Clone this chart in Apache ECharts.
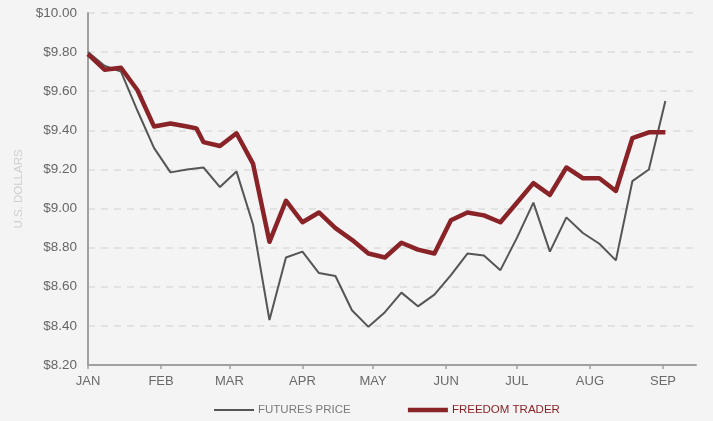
<!DOCTYPE html>
<html>
<head>
<meta charset="utf-8">
<script src="https://cdn.jsdelivr.net/npm/echarts@6/dist/echarts.min.js"></script>
<style>
  html, body { margin: 0; padding: 0; background: #f4f4f4; }
  #chart { width: 713px; height: 421px; }
</style>
</head>
<body>
<div id="chart"></div>
<script>
const MONTHS = ['JAN', 'FEB', 'MAR', 'APR', 'MAY', 'JUN', 'JUL', 'AUG', 'SEP'];
const YEAR = 2024;
const AXIS_START = '2024-01-01';
const AXIS_END = '2024-09-15';

const futuresDates = [
  '2024-01-01','2024-01-08','2024-01-15','2024-01-22','2024-01-29',
  '2024-02-05','2024-02-12','2024-02-19','2024-02-26',
  '2024-03-04','2024-03-11','2024-03-18','2024-03-25',
  '2024-04-01','2024-04-08','2024-04-15','2024-04-22','2024-04-29',
  '2024-05-06','2024-05-13','2024-05-20','2024-05-27',
  '2024-06-03','2024-06-10','2024-06-17','2024-06-24',
  '2024-07-01','2024-07-08','2024-07-15','2024-07-22','2024-07-29',
  '2024-08-05','2024-08-12','2024-08-19','2024-08-26',
  '2024-09-02'
];
const futuresPrice = [
  9.80, 9.73, 9.70, 9.50, 9.31,
  9.185, 9.20, 9.21, 9.11,
  9.19, 8.92, 8.43, 8.75,
  8.78, 8.67, 8.655, 8.48, 8.395,
  8.47, 8.57, 8.50, 8.56,
  8.66, 8.77, 8.76, 8.685,
  8.85, 9.03, 8.78, 8.955, 8.875,
  8.82, 8.735, 9.14, 9.20,
  9.55
];

const traderDates = [
  '2024-01-01','2024-01-08','2024-01-15','2024-01-22','2024-01-29',
  '2024-02-05','2024-02-12','2024-02-16','2024-02-19','2024-02-26',
  '2024-03-04','2024-03-11','2024-03-18','2024-03-25',
  '2024-04-01','2024-04-08','2024-04-15','2024-04-22','2024-04-29',
  '2024-05-06','2024-05-13','2024-05-20','2024-05-27',
  '2024-06-03','2024-06-10','2024-06-17','2024-06-24',
  '2024-07-01','2024-07-08','2024-07-15','2024-07-22','2024-07-29',
  '2024-08-05','2024-08-12','2024-08-19','2024-08-26',
  '2024-09-02'
];
const freedomTrader = [
  9.79, 9.71, 9.72, 9.605, 9.42,
  9.435, 9.42, 9.41, 9.34, 9.32,
  9.385, 9.23, 8.83, 9.04,
  8.93, 8.98, 8.90, 8.84, 8.77,
  8.75, 8.825, 8.79, 8.77,
  8.94, 8.98, 8.965, 8.93,
  9.03, 9.13, 9.07, 9.21, 9.155,
  9.155, 9.09, 9.36, 9.39,
  9.39
];

const Y_MIN = 8.2, Y_MAX = 10.0, Y_STEP = 0.2;

const ts = s => Date.parse(s + 'T00:00:00Z');
const monthTicks = MONTHS.map((m, i) => Date.UTC(YEAR, i, 1));
const zip = (d, v) => d.map((x, i) => [ts(x), v[i]]);

const FONT = '"Liberation Sans", Arial, sans-serif';

const chart = echarts.init(document.getElementById('chart'), null, { renderer: 'canvas' });
chart.setOption({
  backgroundColor: '#f4f4f4',
  animation: false,
  grid: { left: 88, right: 17, top: 13, bottom: 56, containLabel: false },
  xAxis: {
    type: 'value',
    min: ts(AXIS_START),
    max: ts(AXIS_END),
    axisLine: { show: true, lineStyle: { color: '#a0a0a0', width: 2 } },
    axisTick: { show: true, length: 4, lineStyle: { color: '#a0a0a0', width: 1.5 }, customValues: monthTicks },
    axisLabel: {
      customValues: monthTicks,
      color: '#6a6a6a', fontSize: 13, fontFamily: FONT, margin: 10,
      formatter: v => MONTHS[new Date(v).getUTCMonth()]
    },
    splitLine: { show: false }
  },
  yAxis: {
    type: 'value',
    min: Y_MIN, max: Y_MAX, interval: Y_STEP,
    name: 'U.S. DOLLARS',
    nameLocation: 'middle',
    nameGap: 63,
    nameRotate: 90,
    nameTextStyle: { color: '#cfcfcf', fontSize: 11.5, fontFamily: FONT },
    axisLine: { show: true, lineStyle: { color: '#a0a0a0', width: 2 } },
    axisTick: { show: false },
    axisLabel: {
      color: '#666666', fontSize: 13.5, fontFamily: FONT, margin: 11,
      formatter: v => '$' + v.toFixed(2)
    },
    splitLine: { show: true, lineStyle: { color: '#dcdcdc', type: [7, 6], width: 1.5 } }
  },
  legend: {
    left: 213, top: 404, padding: 0,
    itemWidth: 40, itemHeight: 10, itemGap: 55,
    textStyle: { fontSize: 11.5, fontFamily: FONT, padding: [0, 0, 0, -1] },
    data: [
      { name: 'FUTURES PRICE', itemStyle: { opacity: 0 }, lineStyle: { color: '#555555', width: 2 }, textStyle: { color: '#7a7a7a' } },
      { name: 'FREEDOM TRADER', itemStyle: { opacity: 0 }, lineStyle: { color: '#8a2328', width: 4.5 }, textStyle: { color: '#8a2328' } }
    ]
  },
  series: [
    {
      name: 'FUTURES PRICE', type: 'line', symbol: 'none',
      data: zip(futuresDates, futuresPrice),
      lineStyle: { color: '#555555', width: 2 },
      itemStyle: { color: '#555555' },
      z: 2
    },
    {
      name: 'FREEDOM TRADER', type: 'line', symbol: 'none',
      data: zip(traderDates, freedomTrader),
      lineStyle: { color: '#8a2328', width: 4.5, join: 'round' },
      itemStyle: { color: '#8a2328' },
      z: 3
    }
  ]
});
</script>
</body>
</html>
